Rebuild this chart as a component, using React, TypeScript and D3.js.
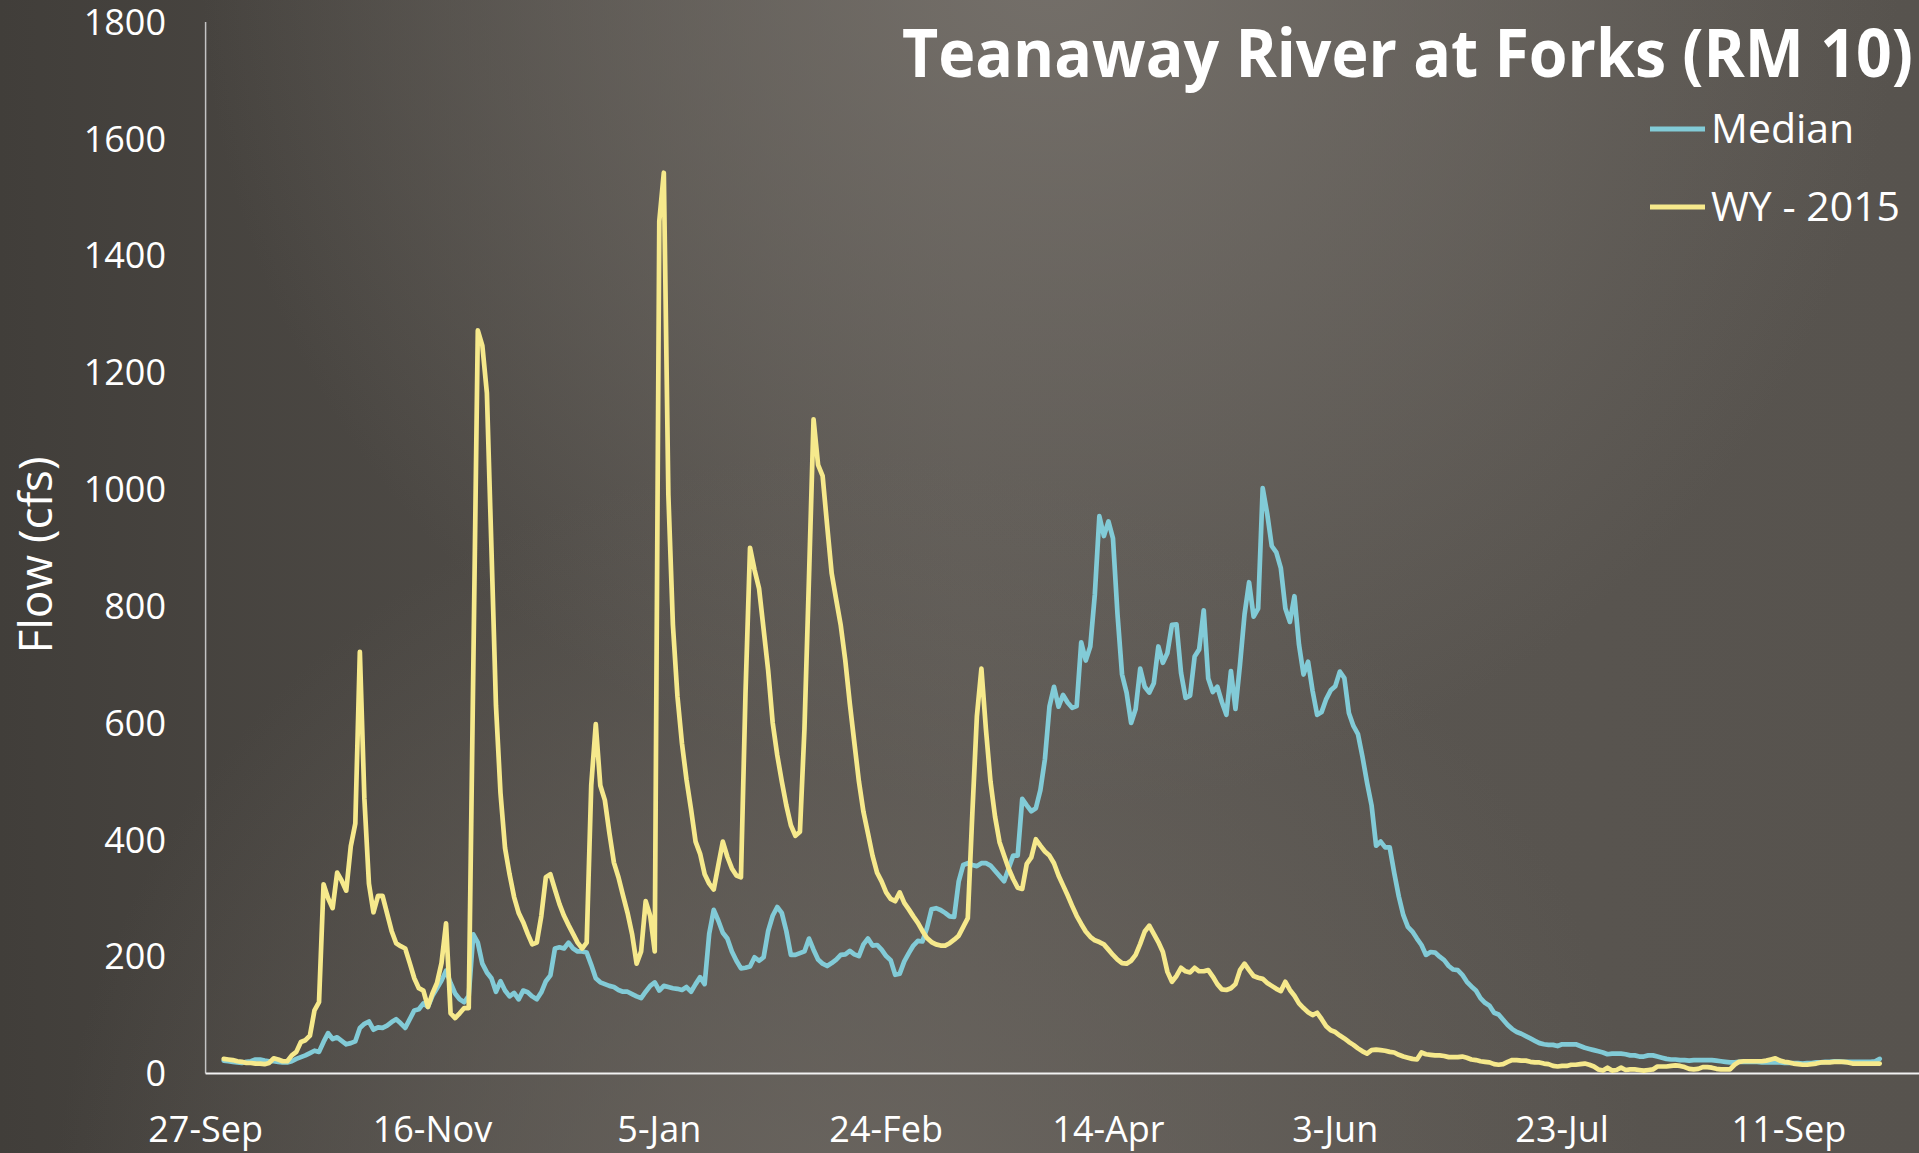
import React from "react";
import * as d3 from "d3";

// ---------- data ----------
const seriesNames = ["Median", "WY - 2015"];
const seriesColors = ["#82cbd7", "#f6e98c"];
const firstDay = "2014-10-01";
const axisStartDay = "2014-09-27";
const axisEndDay = "2015-10-09";
const tickDates = [
  "2014-09-27", "2014-11-16", "2015-01-05", "2015-02-24",
  "2015-04-14", "2015-06-03", "2015-07-23", "2015-09-11",
];
const yTicks = [0, 200, 400, 600, 800, 1000, 1200, 1400, 1600, 1800];
const titleText = "Teanaway River at Forks (RM 10)";
const yTitle = "Flow (cfs)";

const median = [
  22, 21, 20, 19, 18, 20, 21, 24, 24, 22,
  21, 21, 20, 19, 19, 21, 25, 28, 31, 35,
  39, 37, 54, 69, 59, 62, 56, 50, 52, 55,
  78, 85, 89, 75, 79, 78, 82, 88, 93, 86,
  78, 93, 108, 110, 120, 114, 133, 146, 159, 176,
  155, 137, 127, 122, 133, 238, 224, 188, 173, 163,
  140, 158, 142, 132, 138, 127, 142, 139, 132, 127,
  139, 158, 168, 214, 216, 214, 224, 214, 209, 209,
  207, 186, 163, 156, 153, 150, 148, 143, 140, 140,
  136, 132, 129, 140, 150, 156, 142, 150, 148, 146,
  145, 143, 148, 140, 153, 165, 153, 239, 280, 262,
  241, 231, 209, 193, 180, 181, 183, 199, 193, 199,
  244, 270, 285, 275, 244, 203, 203, 206, 209, 231,
  212, 195, 188, 184, 189, 195, 203, 204, 210, 204,
  201, 221, 231, 219, 220, 212, 201, 194, 169, 171,
  192, 206, 219, 227, 226, 249, 281, 283, 280, 275,
  269, 268, 329, 357, 360, 357, 355, 360, 360, 356,
  347, 338, 329, 351, 373, 373, 470, 459, 449, 454,
  485, 538, 628, 662, 628, 648, 635, 626, 629, 738,
  707, 731, 820, 954, 920, 945, 916, 786, 683, 652,
  600, 624, 693, 662, 652, 668, 731, 703, 720, 768,
  769, 686, 643, 647, 714, 726, 793, 676, 653, 662,
  636, 614, 689, 624, 700, 786, 841, 782, 796, 1002,
  958, 903, 892, 865, 796, 773, 817, 734, 683, 705,
  655, 614, 619, 641, 656, 663, 688, 677, 617, 595,
  581, 542, 498, 459, 390, 397, 387, 387, 343, 303,
  271, 251, 243, 231, 220, 203, 208, 207, 200, 194,
  184, 178, 177, 169, 157, 149, 142, 129, 121, 116,
  104, 101, 92, 83, 76, 71, 68, 64, 60, 56,
  52, 50, 49, 49, 47, 50, 50, 50, 50, 47,
  44, 42, 40, 38, 36, 33, 34, 34, 34, 33,
  31, 31, 29, 29, 31, 31, 29, 27, 25, 24,
  24, 23, 23, 22, 23, 23, 23, 23, 23, 22,
  21, 20, 19, 19, 20, 20, 20, 20, 20, 19,
  19, 19, 19, 19, 18, 18, 18, 18, 17, 18,
  18, 19, 19, 20, 20, 21, 21, 20, 20, 20,
  20, 20, 20, 20, 21, 25,
];

const wy2015 = [
  25, 24, 23, 21, 20, 18, 18, 17, 17, 16,
  18, 26, 24, 21, 21, 31, 37, 54, 57, 65,
  108, 122, 324, 300, 283, 344, 330, 313, 389, 428,
  722, 470, 325, 276, 304, 304, 274, 244, 223, 218,
  214, 189, 163, 146, 142, 114, 137, 155, 189, 257,
  103, 95, 103, 112, 112, 690, 1272, 1246, 1165, 900,
  630, 480, 386, 341, 302, 275, 259, 239, 221, 224,
  270, 336, 341, 315, 290, 270, 254, 239, 224, 214,
  224, 493, 598, 493, 468, 412, 361, 336, 305, 275,
  239, 188, 209, 295, 270, 209, 1459, 1542, 991, 768,
  646, 565, 503, 452, 397, 376, 341, 325, 315, 356,
  397, 371, 351, 339, 336, 650, 900, 862, 830, 760,
  690, 600, 545, 500, 459, 425, 407, 414, 590, 850,
  1120, 1042, 1023, 938, 856, 811, 767, 707, 633, 566,
  500, 448, 411, 373, 344, 329, 310, 299, 295, 310,
  292, 281, 269, 258, 244, 232, 225, 221, 219, 219,
  223, 229, 236, 251, 266, 445, 611, 693, 589, 500,
  440, 396, 373, 351, 333, 318, 316, 359, 370, 401,
  390, 380, 373, 360, 339, 322, 305, 287, 270, 256,
  243, 234, 228, 225, 221, 212, 203, 195, 189, 188,
  193, 203, 222, 243, 253, 239, 225, 208, 174, 157,
  167, 181, 175, 173, 181, 175, 175, 177, 166, 153,
  144, 143, 146, 153, 177, 188, 177, 167, 164, 162,
  155, 150, 145, 141, 157, 143, 133, 120, 112, 105,
  100, 104, 93, 81, 74, 71, 65, 60, 54, 49,
  43, 38, 34, 40, 41, 40, 39, 37, 36, 32,
  29, 27, 25, 24, 36, 33, 32, 31, 31, 30,
  28, 28, 28, 29, 27, 24, 23, 21, 20, 19,
  16, 15, 16, 20, 23, 23, 22, 22, 20, 19,
  19, 17, 16, 13, 12, 13, 13, 15, 15, 16,
  17, 15, 12, 7, 5, 10, 5, 6, 10, 6,
  7, 7, 6, 5, 6, 7, 12, 12, 12, 13,
  14, 13, 11, 8, 7, 8, 11, 11, 10, 8,
  7, 7, 7, 15, 20, 21, 21, 21, 21, 21,
  22, 24, 26, 22, 20, 19, 17, 16, 15, 15,
  16, 17, 19, 19, 19, 20, 20, 20, 19, 17,
  17, 17, 17, 17, 17, 17,
];

// ---------- layout ----------
const W = 1919;
const H = 1153;
const plotLeft = 205.6;
const plotRight = 1916;
const plotBottom = 1073.5;
const plotTop = 22;
const FONT = "'Open Sans', 'DejaVu Sans', sans-serif";

const parse = d3.utcParse("%Y-%m-%d");
const fmt = d3.utcFormat("%-d-%b");

export default function App() {
  const x = d3
    .scaleUtc()
    .domain([parse(axisStartDay) as Date, parse(axisEndDay) as Date])
    .range([plotLeft, plotRight]);
  const y = d3.scaleLinear().domain([0, 1800]).range([plotBottom, plotTop]);
  const start = parse(firstDay) as Date;

  const line = d3
    .line<number>()
    .x((_, i) => x(d3.utcDay.offset(start, i)))
    .y((d) => y(d));

  const series = [median, wy2015];

  return (
    <svg
      width={W}
      height={H}
      viewBox={`0 0 ${W} ${H}`}
      style={{ position: "absolute", left: 0, top: 0, display: "block" }}
    >
      <defs>
        <linearGradient id="bgH" x1="0" y1="0" x2="1" y2="0">
          <stop offset="0" stopColor="#413e3a" />
          <stop offset="0.5" stopColor="#5a5651" />
          <stop offset="1" stopColor="#57534e" />
        </linearGradient>
        <radialGradient id="glowTop" cx="1050" cy="-40" r="850" gradientUnits="userSpaceOnUse">
          <stop offset="0" stopColor="#77726c" stopOpacity="0.9" />
          <stop offset="1" stopColor="#77726c" stopOpacity="0" />
        </radialGradient>
        <radialGradient id="glowBottom" cx="850" cy="1250" r="800" gradientUnits="userSpaceOnUse">
          <stop offset="0" stopColor="#6d6862" stopOpacity="0.85" />
          <stop offset="1" stopColor="#6d6862" stopOpacity="0" />
        </radialGradient>
      </defs>
      <rect x={0} y={0} width={W} height={H} fill="url(#bgH)" />
      <rect x={0} y={0} width={W} height={H} fill="url(#glowTop)" />
      <rect x={0} y={0} width={W} height={H} fill="url(#glowBottom)" />

      {/* axes */}
      <line x1={plotLeft} x2={plotLeft} y1={plotTop} y2={plotBottom} stroke="#c4c4c4" strokeWidth={1.5} />
      <line x1={plotLeft} x2={W} y1={plotBottom} y2={plotBottom} stroke="#f2f2f2" strokeWidth={2} />

      {/* y tick labels */}
      {yTicks.map((t) => (
        <text
          key={t}
          x={166}
          y={y(t) + 12.8}
          textAnchor="end"
          fontFamily={FONT}
          fontSize={36}
          fill="#ffffff"
        >
          {t}
        </text>
      ))}

      {/* x tick labels */}
      {tickDates.map((s) => {
        const d = parse(s) as Date;
        return (
          <text
            key={s}
            x={x(d)}
            y={1142}
            textAnchor="middle"
            fontFamily={FONT}
            fontSize={36}
            fill="#ffffff"
          >
            {fmt(d)}
          </text>
        );
      })}

      {/* y axis title */}
      <text
        transform={`translate(52,555) rotate(-90)`}
        textAnchor="middle"
        fontFamily={FONT}
        fontSize={46}
        fill="#ffffff"
      >
        {yTitle}
      </text>

      {/* series */}
      {series.map((s, i) => (
        <path
          key={seriesNames[i]}
          d={line(s) || ""}
          fill="none"
          stroke={seriesColors[i]}
          strokeWidth={4.7}
          strokeLinejoin="round"
          strokeLinecap="round"
        />
      ))}

      {/* title */}
      <text
        x={902}
        y={77}
        fontFamily={FONT}
        fontWeight="bold"
        fontSize={66}
        fill="#ffffff"
        textLength={1011}
        lengthAdjust="spacingAndGlyphs"
      >
        {titleText}
      </text>

      {/* legend */}
      {seriesNames.map((n, i) => {
        const ly = 129 + i * 78;
        return (
          <g key={n}>
            <line x1={1650} x2={1705} y1={ly} y2={ly} stroke={seriesColors[i]} strokeWidth={5} />
            <text x={1711} y={ly + 14} fontFamily={FONT} fontSize={41} fill="#ffffff">
              {n}
            </text>
          </g>
        );
      })}
    </svg>
  );
}
